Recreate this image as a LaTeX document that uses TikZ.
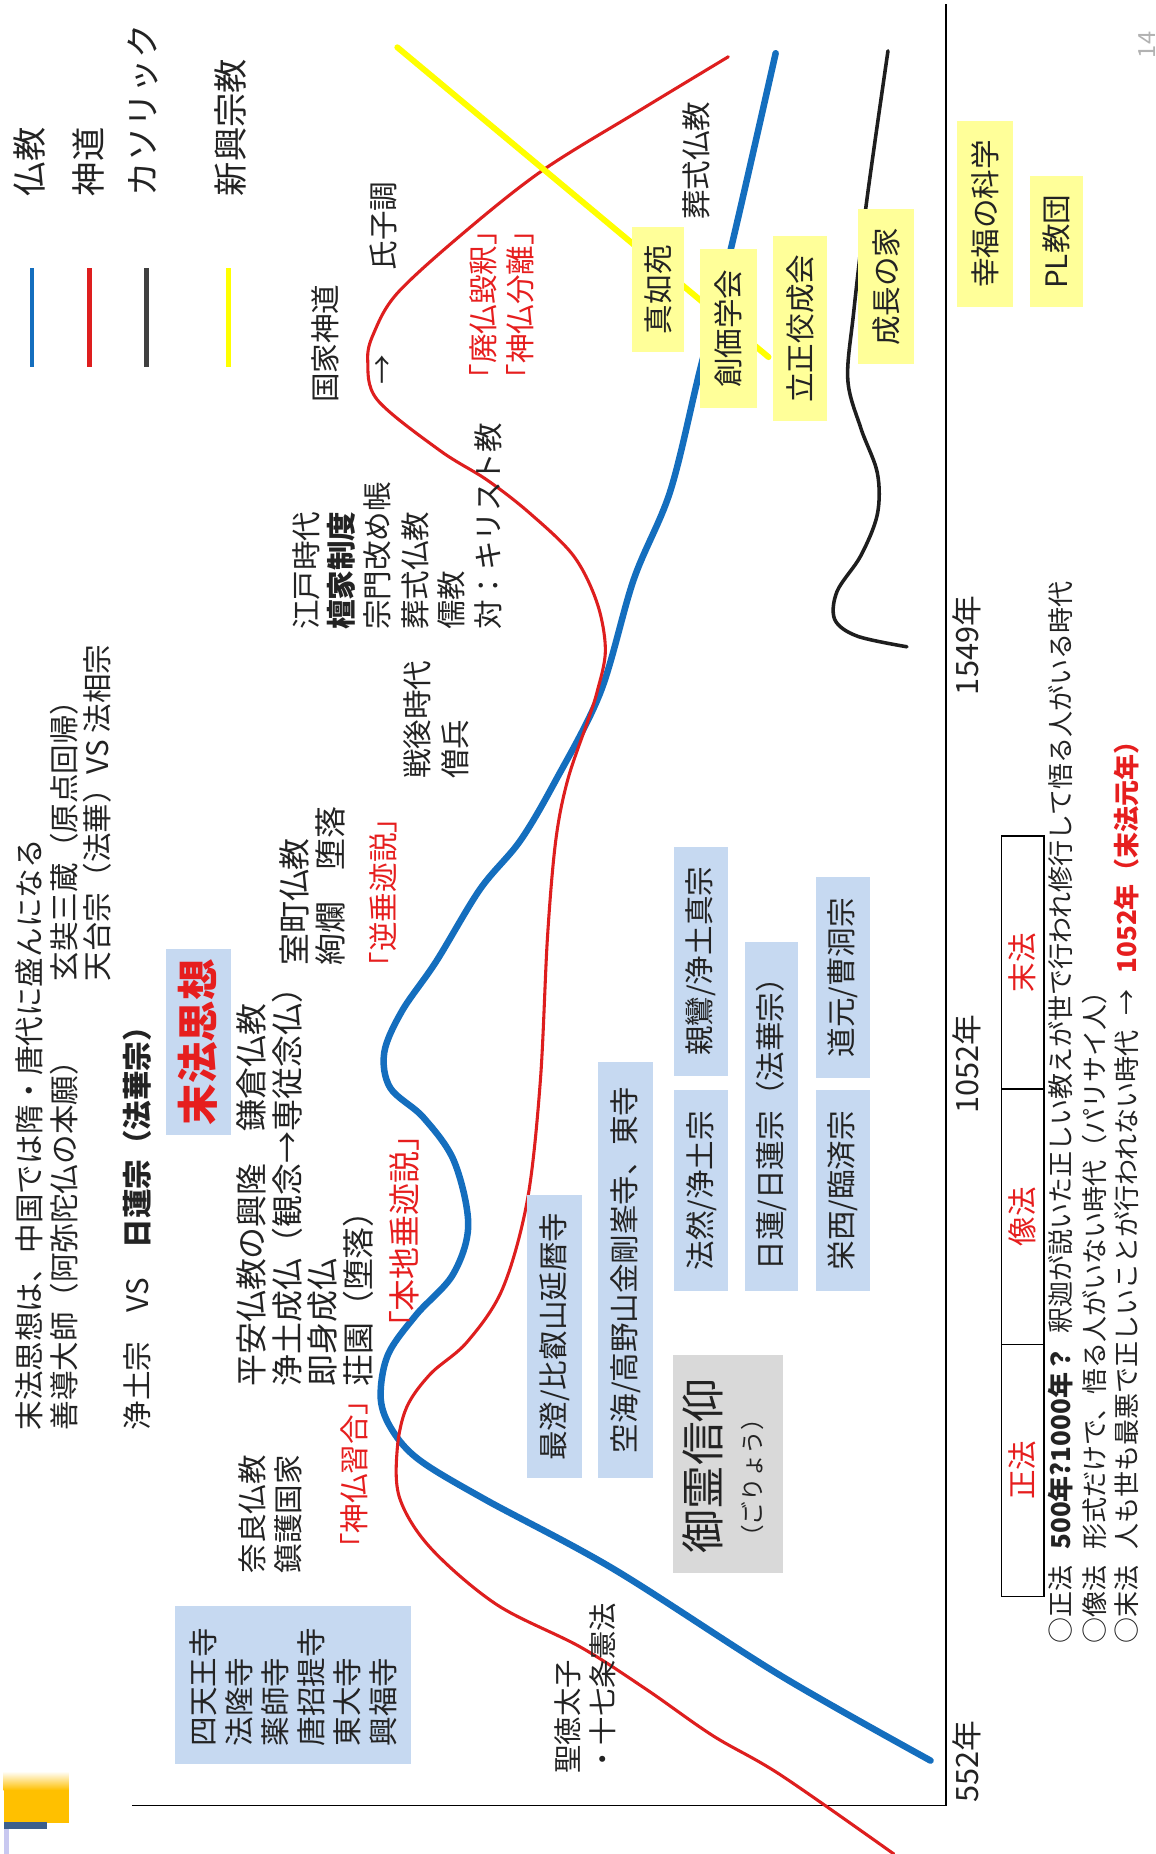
\documentclass[tikz,border=0pt]{standalone}
\usepackage{fontspec}
\setmainfont{Noto Sans CJK JP}
\definecolor{bublue}{RGB}{20,110,190}
\definecolor{shred}{RGB}{222,30,30}
\definecolor{cathgray}{RGB}{30,30,30}
\definecolor{newyellow}{RGB}{255,255,0}
\definecolor{boxblue}{RGB}{198,217,241}
\definecolor{boxyellow}{RGB}{255,255,153}
\definecolor{boxgray}{RGB}{217,217,217}
\definecolor{txtred}{RGB}{230,30,30}
\definecolor{txt}{RGB}{35,35,35}
\definecolor{decoorange}{RGB}{255,192,0}
\definecolor{decoblue}{RGB}{60,95,140}
\definecolor{decolav}{RGB}{200,200,240}
\tikzset{
  vt/.style={rotate=90, inner sep=0pt, anchor=west, text=txt, font=\fontsize{25}{30}\selectfont},
  vthp/.style={vt, font=\fontsize{27}{32}\selectfont},
  vred/.style={vt, text=txtred},
  bbox/.style={rotate=90, fill=boxblue, inner sep=0pt, text=txt, font=\fontsize{25}{30}\selectfont},
  ybox/.style={rotate=90, fill=boxyellow, inner sep=0pt, text=txt, font=\fontsize{25}{30}\selectfont},
  cell/.style={rotate=90, draw=black, line width=1pt, inner sep=0pt, minimum height=36, text=txtred, font=\fontsize{25}{30}\selectfont},
  lgline/.style={line width=4pt},
  curve/.style={line cap=round, line join=round},
}
\begin{document}
\begin{tikzpicture}[x=1pt,y=-1pt]
\useasboundingbox (0,0) rectangle (977,1568);
\fill[white] (0,0) rectangle (977,1568);

% slide decoration
\shade[top color=white, bottom color=decoorange] (3,1498) rectangle (58,1514);
\fill[decoorange] (3,1514) rectangle (58,1542);
\fill[decoblue] (3,1541) rectangle (40,1547);
\fill[decolav] (3,1547) rectangle (8,1568);

% axes
\draw[line width=1.3pt, black] (112,1527) -- (800,1527) -- (800,3);

% legend lines
\draw[lgline, bublue] (27,227) -- (27,310);
\draw[lgline, shred] (76,227) -- (76,310);
\draw[lgline, cathgray!85] (124,227) -- (124,310);
\draw[lgline, newyellow] (193,227) -- (193,310);

% curves
\draw[curve, bublue, line width=5.5pt] plot[smooth, tension=0.55] coordinates {
 (656,45) (618,211) (592,313) (567,415) (536,490) (508,585) (470,660) (440,711)
 (406,752) (369,813) (340,855) (325,890) (330,920) (358,945) (384,982) (396,1036)
 (383,1078) (352,1112) (328,1146) (322,1183) (332,1210) (355,1235) (410,1268)
 (519,1327) (660,1417) (787,1489)};
\draw[curve, shred, line width=2.6pt] plot[smooth, tension=0.55] coordinates {
 (616,48) (540,94) (459,144) (392,197) (336,248) (316,282) (311,305) (319,338)
 (372,381) (412,406) (448,434) (485,470) (505,510) (512,550) (505,585) (497,610)
 (480,660) (470,711) (463,793) (457,914) (446,1015) (425,1090) (395,1135)
 (364,1162) (344,1190) (336,1225) (338,1267) (364,1309) (420,1357) (491,1393)
 (547,1429) (603,1468) (660,1501) (756,1568)};
\draw[curve, cathgray, line width=3pt] plot[smooth, tension=0.55] coordinates {
 (751,43) (733,170) (722,264) (717,321) (728,362) (742,400) (742,435) (728,470)
 (708,500) (706,524) (725,538) (767,547)};
\draw[curve, newyellow, line width=5pt] (336,40) -- (650,302);

% legend texts
\node[vt, font=\fontsize{29}{34}\selectfont] (lgA) at (25,166) {仏教};
\node[vt, font=\fontsize{29}{34}\selectfont] (lgB) at (75,166) {神道};
\node[vt, font=\fontsize{29}{34}\selectfont] (lgC) at (121,166) {カソリック};
\node[vt, font=\fontsize{29}{34}\selectfont] (lgD) at (195,166) {新興宗教};

% top text block
\node[vt] (t1) at (25,1210) {末法思想は、中国では隋・唐代に盛んになる};
\node[vt] (t2) at (54,1210) {善導大師（阿弥陀仏の本願）};
\node[vt] (t3) at (54,830) {玄奘三蔵（原点回帰）};
\node[vt] (t4) at (82,830) {天台宗（法華）VS 法相宗};
\node[vt] (t5) at (116,1210) {浄土宗\hspace{1em}VS\hspace{1em}\textbf{日蓮宗（法華宗）}};

\node[rotate=90, fill=boxblue, minimum width=157, minimum height=55, inner sep=0pt,
      text=txtred, font=\bfseries\fontsize{35}{40}\selectfont] (mappo) at (167.5,881.5) {末法思想};

% Nara
\node[vt] (nara1) at (213,1331) {奈良仏教};
\node[vt] (nara2) at (244,1331) {鎮護国家};
\node[vred] (shinbutsu) at (300,1322) {「神仏習合」};

% Heian
\node[vthp] (heian1) at (213,1173) {平安仏教の興隆　鎌倉仏教};
\node[vthp] (heian2) at (243,1173) {浄土成仏（観念→専従念仏）};
\node[vthp] (heian3) at (273,1173) {即身成仏};
\node[vthp] (heian4) at (303,1173) {荘園（堕落）};

% Muromachi
\node[vthp] (muro1) at (249,817) {室町仏教};
\node[vthp] (muro2) at (279,817) {絢爛　堕落};
\node[vred] (gyaku) at (324,830) {「逆垂迹説」};
\node[vred, font=\fontsize{27}{32}\selectfont] (honji) at (342,1136) {「本地垂迹説」};

% Edo
\node[vt] (edo1) at (259,533) {江戸時代};
\node[vt] (edo2) at (289,533) {\textbf{檀家制度}};
\node[vt] (edo3) at (319,533) {宗門改め帳};
\node[vt] (edo4) at (351,533) {葬式仏教};
\node[vt] (edo5) at (382,533) {儒教};
\node[vt] (edo6) at (413,533) {対：キリスト教};
\node[vt] (sengo1) at (353,659) {戦後時代};
\node[vt] (sengo2) at (385,659) {僧兵};

\node[vt] (kokka) at (275,341) {国家神道};
\node[rotate=90, inner sep=0pt, text=txt, font=\fontsize{25}{30}\selectfont] (arr) at (325,313) {→};
\node[vt] (ujiko) at (324,229) {氏子調};
\node[vred] (haibutsu) at (409,333) {「廃仏毀釈」};
\node[vred] (bunri) at (440,333) {「神仏分離」};
\node[vt] (soshiki) at (589,186) {葬式仏教};

% temples
\node[rotate=90, fill=boxblue, minimum width=134, minimum height=200, inner sep=0pt,
      text width=104, align=left, text=txt, font=\fontsize{25}{30.4}\selectfont] (tera) at (248,1425)
      {四天王寺\\法隆寺\\薬師寺\\唐招提寺\\東大寺\\興福寺};

\node[vt, font=\fontsize{24}{28}\selectfont] (shotoku1) at (480,1500) {聖徳太子};
\node[vt, font=\fontsize{24}{28}\selectfont] (shotoku2) at (510,1500) {・十七条憲法};

% sect boxes
\node[bbox, minimum width=239, minimum height=46] (saicho) at (469,1130.5) {最澄/比叡山延暦寺};
\node[bbox, minimum width=352, minimum height=46] (kukai) at (529,1074) {空海/高野山金剛峯寺、東寺};
\node[bbox, minimum width=170, minimum height=46] (honen) at (593,1007) {法然/浄土宗};
\node[bbox, minimum width=194, minimum height=46] (shinran) at (593,813) {親鸞/浄土真宗};
\node[bbox, minimum width=295, minimum height=45] (nichiren) at (652.5,944.5) {日蓮/日蓮宗（法華宗）};
\node[bbox, minimum width=170, minimum height=46] (eisai) at (713,1007) {栄西/臨済宗};
\node[bbox, minimum width=170, minimum height=46] (dogen) at (713,827) {道元/曹洞宗};

\node[rotate=90, fill=boxgray, minimum width=184, minimum height=93, inner sep=0pt] (goryo) at (615.5,1238) {};
\node[vt, font=\fontsize{37}{42}\selectfont] (goryoA) at (594,1314) {御霊信仰};
\node[vt, font=\fontsize{20}{24}\selectfont] (goryoB) at (636,1310) {（ごりょう）};

% new religions
\node[ybox, minimum width=106, minimum height=44] (shinnyo) at (556.5,245) {真如苑};
\node[ybox, minimum width=134, minimum height=48] (soka) at (616,278) {創価学会};
\node[ybox, minimum width=156, minimum height=45] (rissho) at (676.5,278) {立正佼成会};
\node[ybox, minimum width=131, minimum height=47] (seicho) at (749.5,242.5) {成長の家};
\node[ybox, minimum width=158, minimum height=48] (kofuku) at (833,181) {幸福の科学};
\node[ybox, minimum width=111, minimum height=45] (pl) at (893.5,204.5) {PL教団};

% axis labels
\node[vt, font=\fontsize{26}{30}\selectfont] (y552) at (818,1525) {552年};
\node[vt, font=\fontsize{26}{30}\selectfont] (y1052) at (818,942) {1052年};
\node[vt, font=\fontsize{26}{30}\selectfont] (y1549) at (818,588) {1549年};

% era table
\node[cell, minimum width=213] (cseiho) at (865,1243.5) {正法};
\node[cell, minimum width=216] (czoho) at (865,1029) {像法};
\node[cell, minimum width=214] (cmappo) at (865,814) {末法};

% explanation
\node[vt, font=\fontsize{22}{26}\selectfont] (ex1) at (897,1390) {○正法\hspace{0.6em}\textbf{500年?1000年？}\hspace{0.5em}釈迦が説いた正しい教えが世で行われ修行して悟る人がいる時代};
\node[vt, font=\fontsize{22}{26}\selectfont] (ex2) at (926,1390) {○像法\hspace{0.6em}形式だけで、悟る人がいない時代（パリサイ人）};
\node[vt, font=\fontsize{22}{26}\selectfont] (ex3) at (953,1390) {○末法\hspace{0.6em}人も世も最悪で正しいことが行われない時代\hspace{0.6em}→\hspace{0.6em}{\color{txtred}\bfseries 1052年（末法元年）}};

\node[rotate=90, inner sep=0pt, text=gray!60, font=\fontsize{20}{24}\selectfont] (pg) at (970,38) {14};
\end{tikzpicture}
\end{document}
